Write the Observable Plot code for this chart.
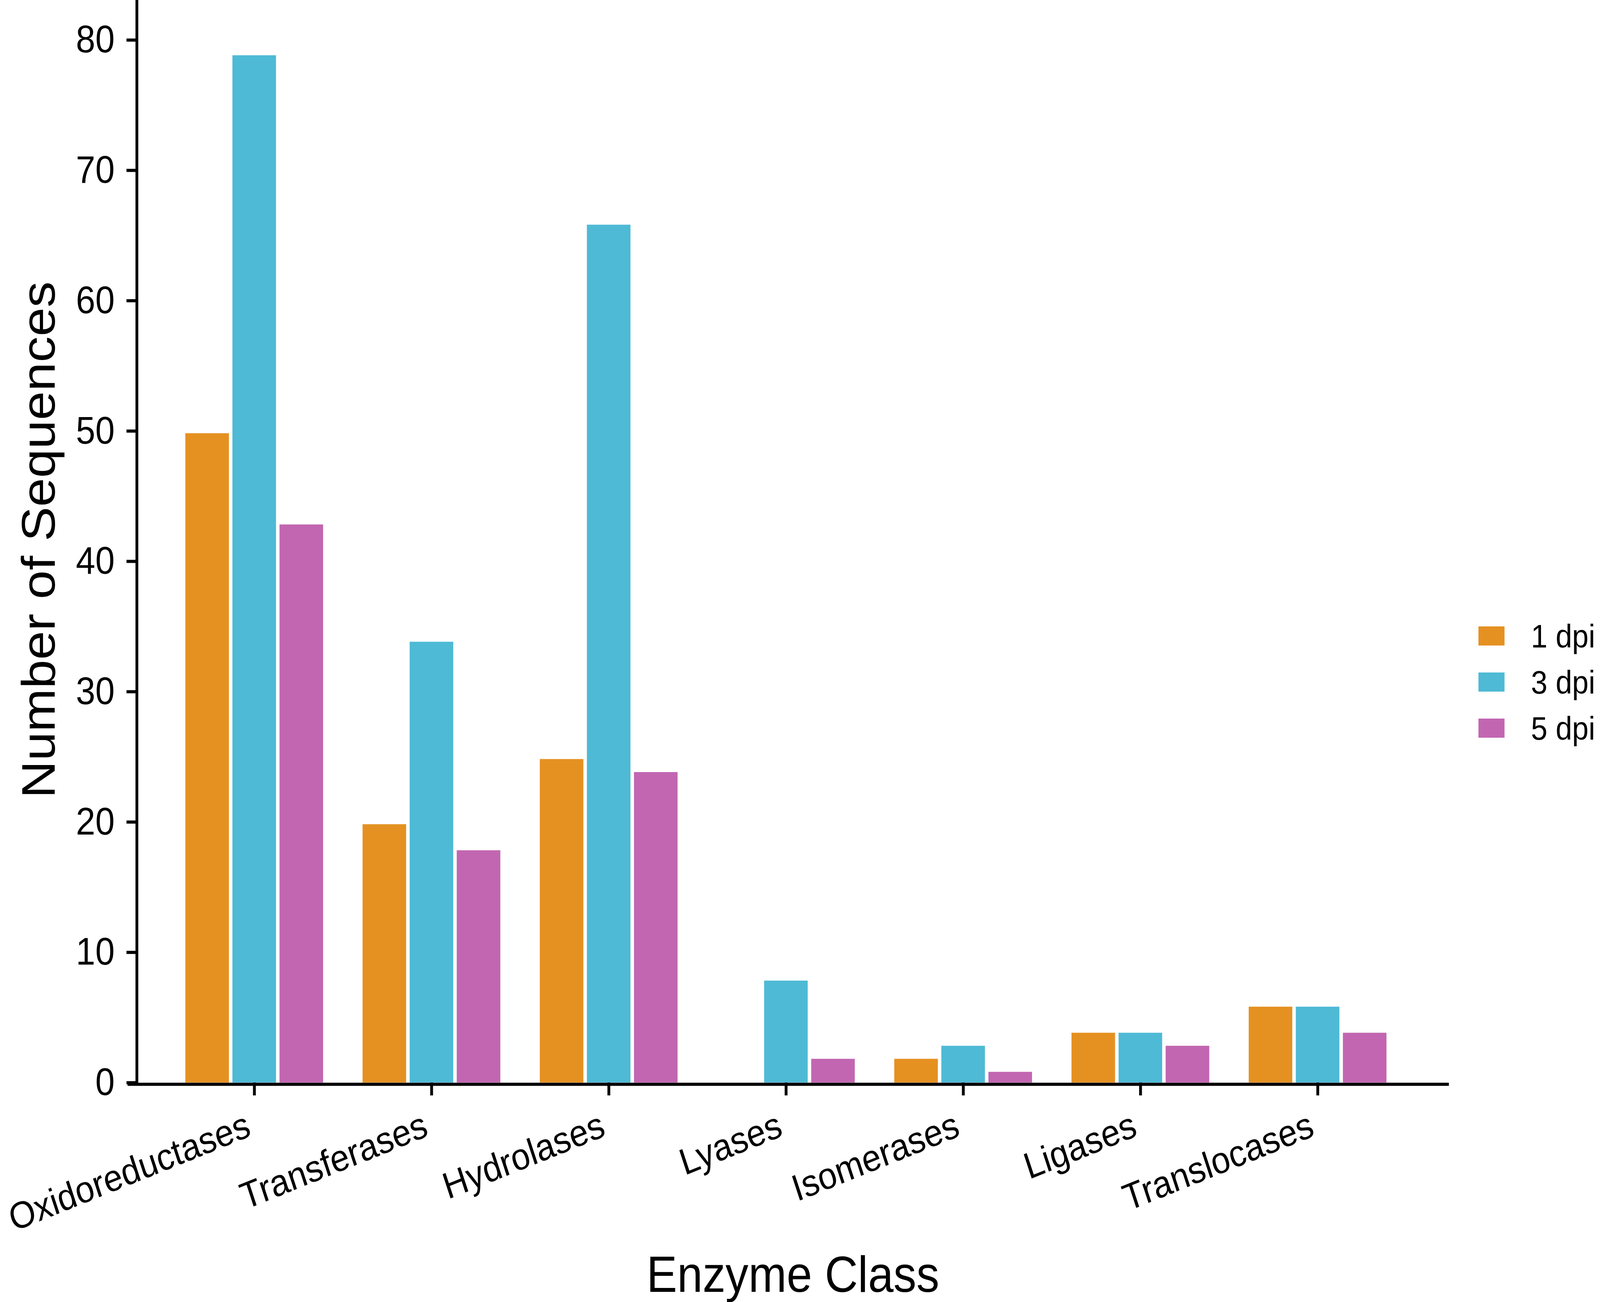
<!DOCTYPE html>
<html>
<head>
<meta charset="utf-8">
<script src="https://cdn.jsdelivr.net/npm/d3@7"></script>
<script src="https://cdn.jsdelivr.net/npm/@observablehq/plot@0.6"></script>
<style>
  html, body { margin: 0; padding: 0; background: #fff; overflow: hidden; }
  #wrap { position: relative; width: 4541px; height: 3334px; font-family: "Liberation Sans", Arial, sans-serif; background: #fff; transform-origin: 0 0; }
  #legend { position: absolute; left: 4196px; top: 1604px; }
  .row { position: absolute; left: 0; display: flex; align-items: center; height: 49px; white-space: nowrap; }
  .sw { width: 74px; height: 49px; }
  .lab { margin-left: 75px; font-size: 84px; color: #000; line-height: 1; }
</style>
</head>
<body>
<div id="wrap"></div>
<script>
const categories = ["Oxidoreductases", "Transferases", "Hydrolases", "Lyases", "Isomerases", "Ligases", "Translocases"];
const series = ["1 dpi", "3 dpi", "5 dpi"];
const dpi1 = [50, 20, 25, 0, 2, 4, 6];
const dpi3 = [79, 34, 66, 8, 3, 4, 6];
const dpi5 = [43, 18, 24, 2, 1, 3, 4];
const colors = ["#E59122", "#4EBAD5", "#C266B1"];
const yTicks = [0, 10, 20, 30, 40, 50, 60, 70, 80];

const valuesBySeries = [dpi1, dpi3, dpi5];
const rows = [];
series.forEach((s, si) => {
  categories.forEach((c, ci) => rows.push({category: c, series: s, value: valuesBySeries[si][ci]}));
});

const font = '"Liberation Sans", Arial, sans-serif';
const bw = 391.3, barW = 124;
const insets = [
  {insetLeft: 0, insetRight: bw - barW},
  {insetLeft: (bw - barW) / 2, insetRight: (bw - barW) / 2},
  {insetLeft: bw - barW, insetRight: 0}
];

const bars = series.map((s, si) =>
  Plot.barY(rows.filter(d => d.series === s && d.value > 0), {
    x: "category", y: "value", fill: "series",
    insetTop: 6, ...insets[si]
  })
);

const chart = Plot.plot({
  width: 4541,
  height: 3334,
  marginLeft: 388,
  marginRight: 429,
  marginTop: 0,
  marginBottom: 562,
  style: {fontFamily: font, background: "white", color: "black", overflow: "visible"},
  x: {domain: categories, paddingInner: 0.2222, paddingOuter: 0.3125, align: 0.44, label: null},
  y: {domain: [0, 83.06], label: null},
  color: {domain: series, range: colors},
  marks: [
    ...bars,
    Plot.frame({anchor: "left", stroke: "black", strokeWidth: 8}),
    Plot.ruleY([0], {stroke: "black", strokeWidth: 8, dy: 4, insetLeft: -26}),
    Plot.axisY({ticks: yTicks, tickSize: 29, tickPadding: 34, fontSize: 99, strokeWidth: 8, label: null}),
    Plot.axisX({tickSize: 33, strokeWidth: 8, tickFormat: () => "", label: null}),
    Plot.axisX({tickSize: 0, tickPadding: 106, tickRotate: -20, dx: -16, fontSize: 96, label: null}),
    Plot.text(["Enzyme Class"], {frameAnchor: "bottom", dy: 535, lineAnchor: "bottom", textAnchor: "middle", fontSize: 130, text: d => d}),
    Plot.text(["Number of Sequences"], {frameAnchor: "left", dx: -233, dy: -4, rotate: -90, lineAnchor: "bottom", textAnchor: "middle", fontSize: 133, text: d => d})
  ]
});

const wrap = document.getElementById("wrap");
wrap.appendChild(chart);

const legend = document.createElement("div");
legend.id = "legend";
series.forEach((s, i) => {
  const row = document.createElement("div");
  row.className = "row";
  row.style.top = (i * 118) + "px";
  const sw = document.createElement("div");
  sw.className = "sw";
  sw.style.background = colors[i];
  const lab = document.createElement("span");
  lab.className = "lab";
  lab.textContent = s;
  row.appendChild(sw);
  row.appendChild(lab);
  legend.appendChild(row);
});
wrap.appendChild(legend);

// The browser window may be narrower than the 4541px reference: fit the figure's width to it.
const fit = Math.min(1, document.documentElement.clientWidth / 4541);
if (fit < 1) wrap.style.transform = `scaleX(${fit})`;
</script>
</body>
</html>
